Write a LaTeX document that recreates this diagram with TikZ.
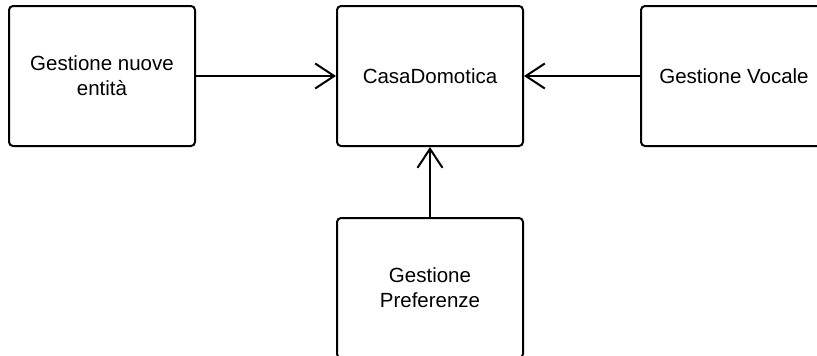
\documentclass[tikz,border=0pt]{standalone}
\usepackage{fontspec}
\setmainfont{Liberation Sans}
\usepackage{tikz}
\usetikzlibrary{positioning, arrows.meta}
\tikzset{
    modulo/.style={draw, rectangle, rounded corners=4pt, line width=2pt, minimum width=186pt, minimum height=140pt, align=center, inner sep=0pt, font=\fontsize{20.5}{25}\selectfont},
    conn/.style={-{Straight Barb[length=19pt, width=25pt, line width=2pt]}, line width=2pt},
}

\begin{document}
\begin{tikzpicture}[x=1pt, y=-1pt]
        \useasboundingbox (0,0) rectangle (817,356);
        \clip (0,0) rectangle (817,356);

        \node [modulo] (casa) at (430,76) {CasaDomotica};
        \node [modulo, left=140pt of casa] (nuove) {Gestione nuove\\entità};
        \node [modulo, right=116pt of casa] (vocale) {Gestione Vocale};
        \node [modulo, below=70pt of casa] (pref) {Gestione\\Preferenze};

        \draw[conn] (nuove) -- (casa);
        \draw[conn] (vocale) -- (casa);
        \draw[conn] (pref) -- (casa);
\end{tikzpicture}
\end{document}
